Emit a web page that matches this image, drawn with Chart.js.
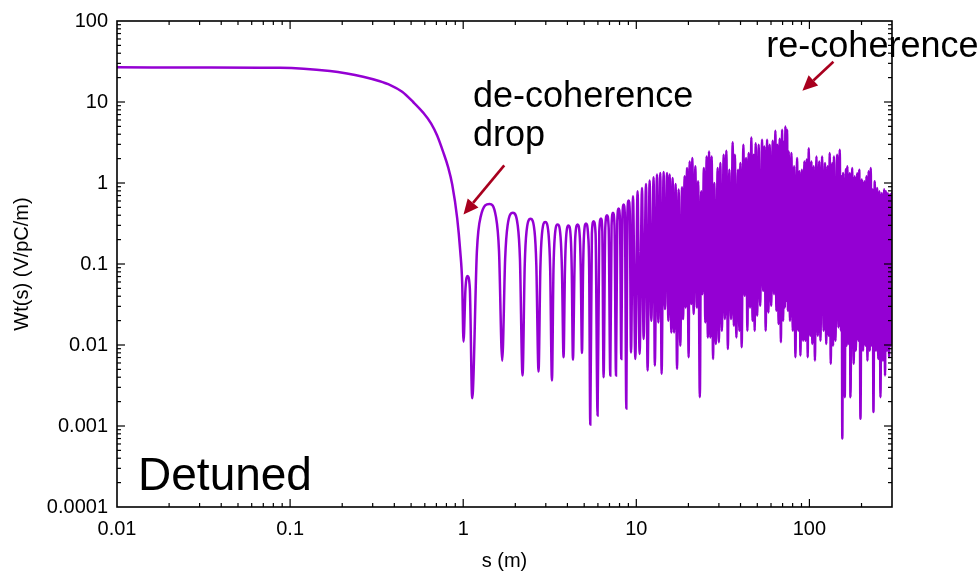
<!DOCTYPE html>
<html>
<head>
<meta charset="utf-8">
<script src="https://cdn.jsdelivr.net/npm/chart.js@4.4.0/dist/chart.umd.min.js"></script>
<style>
html,body{margin:0;padding:0;background:#fff;}
</style>
</head>
<body>
<canvas id="wake" width="978" height="573"></canvas>
<script>
// flat plateau and the de-coherence drop
var dropS = [0.01,0.03,0.0876,0.17,0.213,0.264,0.3227,0.379,0.444,0.514,0.587,0.653,0.707,0.766,0.819,0.864,0.923,0.961,0.987,1.004];
var dropW = [26.8,26.7,26.4,24.1,22.5,20.5,18.3,16.2,13.4,10.0,7.40,5.42,3.86,2.42,1.56,0.96,0.368,0.145,0.0568,0.011];

// resolved lobes, 1 m .. 31 m
var lobeS = [1.031,1.059,1.092,1.127,1.200,1.264,1.419,1.543,1.610,1.680,
  1.747,1.805,1.938,2.065,2.127,2.202,2.267,2.322,2.449,2.583,2.645,2.724,
  2.791,2.849,2.979,3.114,3.179,3.256,3.322,3.380,3.509,3.651,3.720,3.800,
  3.869,3.929,4.061,4.182,4.238,4.305,4.393,4.441,4.579,4.715,4.778,4.855,
  4.926,4.985,5.120,5.272,5.342,5.421,5.538,5.664,5.817,5.974,6.111,6.252,6.361,6.471,
  6.618,6.769,6.924,7.073,7.197,7.333,7.482,7.633,7.766,7.902,8.050,8.191,
  8.313,8.447,8.594,8.756,8.886,9.028,9.173,9.319,9.57,9.87,10.17,10.45,
  10.79,11.02,11.38,11.62,11.94,12.21,12.59,12.79,13.17,13.40,13.76,14.0,
  14.38,14.65,15.05,15.31,15.58,15.94,16.21,16.52,16.87,17.19,17.56,17.96,
  18.37,18.62,19.02,19.28,19.64,20.06,20.33,20.79,21.07,21.44,21.93,22.38,
  22.76,23.28,23.69,24.07,24.56,25.05,25.49,25.90,26.32,26.77,27.25,27.76,
  28.24,28.81,29.51,29.99,30.59,31.21];
var lobeW = [0.05,0.0713,0.05,0.0022,0.145,0.39,0.552,0.39,0.145,0.0064,
  0.116,0.30,0.428,0.30,0.116,0.0042,0.097,0.253,0.361,0.253,0.097,0.0047,
  0.089,0.23,0.329,0.23,0.089,0.00365,0.083,0.216,0.308,0.216,0.083,0.00705,
  0.081,0.21,0.299,0.21,0.081,0.0066,0.083,0.216,0.308,0.216,0.083,0.00798,
  0.086,0.222,0.317,0.222,0.086,0.00104,0.237,0.338,0.237,0.00135,0.255,0.365,0.255,0.0040,
  0.28,0.401,0.28,0.0042,0.30,0.428,0.30,0.0042,0.34,0.484,0.34,0.00673,
  0.38,0.542,0.38,0.00164,0.42,0.607,0.42,0.0081,0.686,0.00673,0.791,0.00776,
  0.868,0.0119,0.972,0.00484,1.07,0.0199,1.175,0.00557,1.27,0.019,1.327,0.00441,
  1.365,0.0278,1.327,0.0199,1.27,0.0143,1.152,0.0143,0.972,0.00508,0.83,0.00982,
  0.885,0.0209,1.209,0.029,1.529,0.00705,1.848,0.032,2.03,0.0241,1.605,0.029,
  1.049,0.00227,0.791,0.0424,1.529,0.019,2.13,0.0124,2.454,0.0124,2.13,0.00673,
  1.0,0.0103,1.529,0.0108,1.762,0.015];

// unresolved burst region, 32 m .. 300 m
var burstS = [31.96,32.48,33.13,33.80,34.48,35.27,36.03,36.61,37.10,37.84,38.71,39.39,
  39.92,40.61,41.54,42.27,43.06,43.82,44.58,45.42,46.20,46.95,47.64,48.28,
  48.93,49.92,50.92,51.94,53.27,54.06,54.94,55.89,56.95,57.94,58.96,60.15,
  61.37,62.42,63.60,64.45,65.31,66.37,67.35,68.43,69.54,70.47,71.42,72.08,
  72.66,73.44,74.32,75.11,75.91,77.25,78.70,80.17,81.58,83.0,84.9,86.16,
  87.54,88.72,90.5,91.94,93.56,94.82,96.47,97.77,99.08,101.1,102.7,103.9,
  105.9,107.6,109.8,111.8,114.0,115.8,118.4,120.8,123.1,125.1,127.4,129.3,
  131.0,132.8,135.3,136.9,138.6,141.4,144.6,147.1,149.7,152.1,153.5,154.9,
  156.8,160.0,162.6,164.1,165.6,168.7,170.8,172.6,176.6,180.3,182.8,185.4,
  188.9,191.9,194.1,197.2,200.9,204.1,207.5,210.8,213.6,216.4,219.9,223.2,
  226.1,229.1,231.6,234.4,238.5,242.3,246.3,249.9,253.9,257.3,261.8,266.0,
  270.3,273.5,276.8,280.5,284.3,288.5,292.0,295.1,298.5,300];
var burstW = [2.235,0.0209,2.503,0.00894,1.462,0.0209,3.19,0.0173,2.235,0.0124,1.462,0.015,
  1.762,0.00936,2.966,0.0405,2.03,0.015,2.338,0.029,3.646,0.0199,2.235,0.015,
  3.10,0.023,2.966,0.0305,3.418,0.0466,2.827,0.015,3.418,0.0252,2.966,0.0305,
  3.32,0.0424,4.41,0.0265,2.966,0.0182,3.516,0.0108,4.536,0.0199,3.256,0.029,
  4.98,0.0351,4.536,0.0265,2.454,0.0199,2.338,0.015,1.605,0.00705,2.03,0.015,
  1.393,0.0074,1.462,0.0113,1.848,0.0113,1.956,0.00705,2.693,0.013,1.848,0.0103,
  1.605,0.00642,2.13,0.013,1.848,0.0113,2.13,0.015,1.762,0.0103,1.605,0.013,
  2.338,0.00585,1.747,0.00982,2.13,0.0113,2.235,0.0165,2.575,0.015,1.209,0.0007,
  1.327,0.00227,1.474,0.00982,1.605,0.0103,1.316,0.00227,1.529,0.00585,1.209,0.00852,
  1.316,0.0113,1.462,0.00123,1.101,0.00852,1.049,0.00982,1.209,0.00642,1.393,0.00852,
  1.529,0.00982,0.83,0.00149,1.049,0.00852,0.868,0.00673,0.791,0.00227,0.754,0.00642,
  0.837,0.0042,0.791,0.00852,0.747,0.00705,0.72,0.00982,0.754,0.221];

var xTicks = [0.01,0.1,1,10,100];
var yTicks = [0.0001,0.001,0.01,0.1,1,10,100];

// annotations, anchored in data units
var notes = [
  {text:'de-coherence', s:1.14, w:8.77, size:36},
  {text:'drop', s:1.14, w:2.83, size:36},
  {text:'re-coherence', s:56.4, w:36.1, size:36},
  {text:'Detuned', s:0.01323, w:0.000162, size:46}
];
var arrows = [
  {from:[1.726,1.651], to:[1.004,0.409]},
  {from:[137.6,31.4], to:[91.1,13.8]}
];

var FONT = "'Liberation Sans', Arial, sans-serif";
var allS = dropS.concat(lobeS, burstS);
var allW = dropW.concat(lobeW, burstW);
var pts = allS.map(function(s,i){ return {x:s, y:allW[i]}; });

var frame = {
  id:'frame',
  afterDraw: function(chart){
    var ctx = chart.ctx, a = chart.chartArea, xs = chart.scales.x, ys = chart.scales.y;
    ctx.save();
    ctx.strokeStyle = '#000';
    ctx.lineWidth = 1.6;
    ctx.strokeRect(a.left, a.top, a.right-a.left, a.bottom-a.top);
    ctx.lineWidth = 1.2;
    function seg(x1,y1,x2,y2){ ctx.beginPath(); ctx.moveTo(x1,y1); ctx.lineTo(x2,y2); ctx.stroke(); }
    var k, m, v, p, len;
    for (k=-2;k<=2;k++) for (m=1;m<=9;m++){
      v = m*Math.pow(10,k);
      if (v<=0.01 || v>=300) continue;
      p = xs.getPixelForValue(v); len = m===1 ? 8 : 4;
      seg(p,a.bottom,p,a.bottom-len); seg(p,a.top,p,a.top+len);
    }
    for (k=-4;k<=1;k++) for (m=1;m<=9;m++){
      v = m*Math.pow(10,k);
      if (v<=0.0001 || v>=100) continue;
      p = ys.getPixelForValue(v); len = m===1 ? 8 : 4;
      seg(a.left,p,a.left+len,p); seg(a.right,p,a.right-len,p);
    }
    // arrows
    ctx.strokeStyle = '#a8001e'; ctx.fillStyle = '#a8001e'; ctx.lineWidth = 2.6;
    arrows.forEach(function(ar){
      var x1 = xs.getPixelForValue(ar.from[0]), y1 = ys.getPixelForValue(ar.from[1]);
      var x2 = xs.getPixelForValue(ar.to[0]), y2 = ys.getPixelForValue(ar.to[1]);
      var ang = Math.atan2(y2-y1, x2-x1), hl = 15, hw = 7;
      var bx = x2 - hl*Math.cos(ang), by = y2 - hl*Math.sin(ang);
      seg(x1,y1,bx,by);
      ctx.beginPath();
      ctx.moveTo(x2,y2);
      ctx.lineTo(bx + hw*Math.sin(ang), by - hw*Math.cos(ang));
      ctx.lineTo(bx - hw*Math.sin(ang), by + hw*Math.cos(ang));
      ctx.closePath(); ctx.fill();
    });
    // texts
    ctx.fillStyle = '#000'; ctx.textAlign = 'left'; ctx.textBaseline = 'alphabetic';
    notes.forEach(function(n){
      ctx.font = n.size + 'px ' + FONT;
      ctx.fillText(n.text, xs.getPixelForValue(n.s), ys.getPixelForValue(n.w));
    });
    ctx.restore();
  }
};

new Chart(document.getElementById('wake'), {
  type:'line',
  data:{ datasets:[{
    data: pts,
    borderColor:'#9400d3',
    borderWidth:2.5,
    pointRadius:0,
    fill:false,
    cubicInterpolationMode:'monotone'
  }]},
  options:{
    responsive:false,
    devicePixelRatio:1,
    animation:false,
    events:[],
    layout:{ padding:{ left:0, top:19, right:86, bottom:0 } },
    plugins:{ legend:{display:false}, tooltip:{enabled:false} },
    scales:{
      x:{
        type:'logarithmic', min:0.01, max:300,
        grid:{display:false, drawTicks:false},
        border:{display:false},
        afterBuildTicks:function(sc){ sc.ticks = xTicks.map(function(v){return {value:v};}); },
        afterFit:function(sc){ sc.height = 66; },
        ticks:{ color:'#000', padding:10, maxRotation:0, autoSkip:false,
          font:{family:FONT, size:20}, callback:function(v){ return String(v); } },
        title:{ display:true, text:'s (m)', color:'#000', font:{family:FONT, size:20}, padding:{top:0,bottom:0} }
      },
      y:{
        type:'logarithmic', min:0.0001, max:100,
        grid:{display:false, drawTicks:false},
        border:{display:false},
        afterBuildTicks:function(sc){ sc.ticks = yTicks.map(function(v){return {value:v};}); },
        afterFit:function(sc){ sc.width = 117; },
        ticks:{ color:'#000', padding:9, autoSkip:false,
          font:{family:FONT, size:20}, callback:function(v){ return String(v); } },
        title:{ display:true, text:'Wt(s) (V/pC/m)', color:'#000', font:{family:FONT, size:20}, padding:{top:10,bottom:0} }
      }
    }
  },
  plugins:[frame]
});
</script>
</body>
</html>
